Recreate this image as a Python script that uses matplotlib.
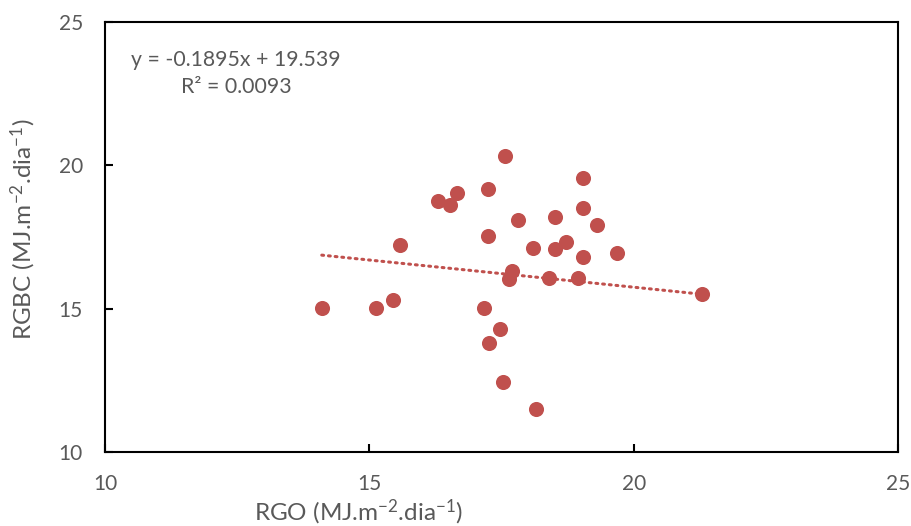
import matplotlib
matplotlib.use("Agg")
import matplotlib.pyplot as plt
import numpy as np

# RGO vs RGBC (MJ.m-2.dia-1)
rgo = [17.57, 19.05, 17.24, 16.66, 16.30, 16.53, 19.04, 17.81, 18.52, 19.31,
       17.24, 15.58, 18.09, 18.72, 18.52, 19.05, 19.68, 17.70, 17.64, 18.39,
       18.95, 21.29, 14.10, 15.12, 15.45, 17.16, 17.47, 17.26, 17.53, 18.15]
rgbc = [20.33, 19.56, 19.16, 19.04, 18.76, 18.62, 18.50, 18.09, 18.19, 17.93,
        17.53, 17.21, 17.12, 17.32, 17.08, 16.81, 16.93, 16.30, 16.03, 16.08,
        16.08, 15.50, 15.03, 15.01, 15.30, 15.01, 14.29, 13.79, 12.45, 11.49]

slope = -0.1895
intercept = 19.539
r2 = 0.0093

ticks = [10, 15, 20, 25]

plt.rcParams['font.family'] = ['Lato', 'DejaVu Sans']
plt.rcParams['mathtext.fontset'] = 'custom'
plt.rcParams['mathtext.rm'] = 'Lato'
plt.rcParams['mathtext.it'] = 'Lato'

grey = '#595959'
red = '#C0504D'

fig = plt.figure(figsize=(9.11, 5.26), dpi=100)
ax = fig.add_axes([0.1153, 0.1407, 0.8704, 0.8175])

ax.scatter(rgo, rgbc, s=118, color=red, zorder=3, linewidths=0)

xs = np.array([min(rgo), max(rgo)])
ax.plot(xs, slope * xs + intercept, color=red, lw=2.2, ls=(0, (0.6, 1.6)),
        dash_capstyle='round', zorder=2)

ax.set_xlim(10, 25)
ax.set_ylim(10, 25)
ax.set_xticks(ticks)
ax.set_yticks(ticks)

for sp in ax.spines.values():
    sp.set_linewidth(1.5)
    sp.set_color('black')

ax.tick_params(direction='in', length=6, width=1.5, colors='black',
               labelcolor=grey, labelsize=15)
ax.tick_params(axis='y', pad=16)
ax.tick_params(axis='x', pad=16)

ax.text(0.165, 0.88, 'y = %.4fx + %.3f\nR² = %.4f' % (slope, intercept, r2),
        transform=ax.transAxes, ha='center', va='center', fontsize=15.3,
        color=grey, linespacing=1.4, multialignment='center')

fig.text(358 / 911, 1 - 512 / 526, 'RGO (MJ.m$^{-2}$.dia$^{-1}$)',
         ha='center', va='center', fontsize=17.5, color=grey)
fig.text(23 / 911, 1 - 229 / 526, 'RGBC (MJ.m$^{-2}$.dia$^{-1}$)',
         ha='center', va='center', fontsize=17.5, color=grey, rotation=90)

fig.savefig('out.png', dpi=100)
